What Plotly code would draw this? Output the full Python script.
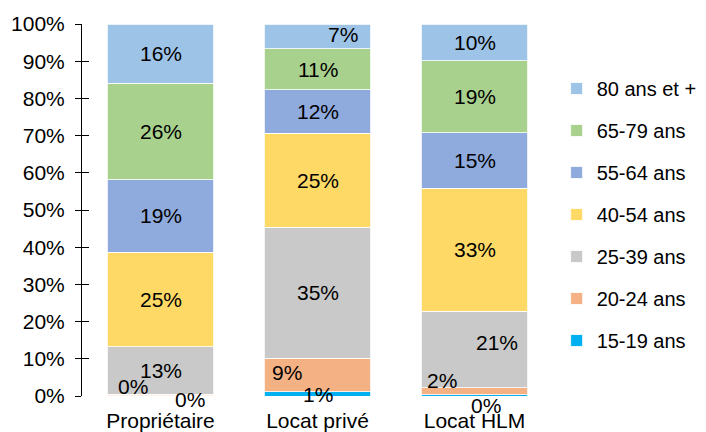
import plotly.graph_objects as go

categories = ["Propriétaire", "Locat privé", "Locat HLM"]
series_names = ["15-19 ans", "20-24 ans", "25-39 ans", "40-54 ans", "55-64 ans", "65-79 ans", "80 ans et +"]
v_15_19 = [0.1, 1.1, 0.3]
v_20_24 = [0.4, 9.1, 1.9]
v_25_39 = [12.8, 35.1, 20.6]
v_40_54 = [25.4, 25.4, 33.0]
v_55_64 = [19.4, 11.6, 15.0]
v_65_79 = [26.0, 11.0, 19.3]
v_80p = [15.9, 6.7, 9.9]
series_values = [v_15_19, v_20_24, v_25_39, v_40_54, v_55_64, v_65_79, v_80p]
y_ticks = [0, 10, 20, 30, 40, 50, 60, 70, 80, 90, 100]
y_tick_labels = [f"{t}%" for t in y_ticks]

colors = ["#00B0F0", "#F4B183", "#C9C9C9", "#FFD966", "#8FAADC", "#A9D18E", "#9DC3E6"]

# manual label offsets (pixels) for labels moved away from the segment centre
label_shift = {
    (0, 0): (29, -4), (1, 0): (-28, 8),
    (0, 1): (0, -1), (1, 1): (-31, 2), (6, 1): (25, 2),
    (0, 2): (11, -10), (1, 2): (-33, 11), (2, 2): (22, 7),
}

FONT = "Liberation Sans, Arial, sans-serif"
FS = 21
fig = go.Figure()
n = len(series_names)
for i, (name, vals) in enumerate(zip(series_names, series_values)):
    fig.add_trace(go.Bar(
        x=categories, y=vals, name=name, legendgroup=name, legendrank=n - i,
        marker=dict(color=colors[i], line=dict(color="white", width=0.8)),
        hoverinfo="skip",
    ))

annotations = []
for j, cat in enumerate(categories):
    cum = 0.0
    for i, vals in enumerate(series_values):
        v = vals[j]
        mid = cum + v / 2
        cum += v
        dx, dy = label_shift.get((i, j), (0, 0))
        annotations.append(dict(
            x=cat, y=mid, text=f"{round(v)}%", showarrow=False,
            xshift=dx, yshift=dy, font=dict(size=FS, color="#000000", family=FONT),
        ))

# page body has an 8px margin: figure is sized to end at the window edge
fig.update_layout(
    width=698, height=424,
    margin=dict(l=74, r=153, t=16, b=36, autoexpand=False),
    barmode="stack", bargap=0.32,
    plot_bgcolor="white", paper_bgcolor="white",
    font=dict(family=FONT, size=FS, color="#000000"),
    annotations=annotations,
    legend=dict(
        traceorder="grouped", tracegroupgap=13, maxheight=1,
        xref="container", yref="container",
        x=0.786, xanchor="left", y=0.513, yanchor="middle",
        font=dict(size=20, family=FONT, color="#000000"),
        bgcolor="rgba(0,0,0,0)",
    ),
    showlegend=True,
    yaxis2=dict(overlaying="y", side="left", range=[0, 100], tickvals=y_ticks,
                showticklabels=False, ticks="inside", ticklen=7, tickcolor="#000000",
                tickwidth=1, showgrid=False, showline=False, zeroline=False),
)
fig.update_xaxes(showline=False, ticks="", showgrid=False, range=[-0.5, 2.5],
                 ticklabelstandoff=10,
                 tickfont=dict(size=FS, family=FONT, color="#000000"))
fig.update_layout(yaxis=dict(range=[0, 100], tickvals=y_ticks,
                 ticktext=y_tick_labels, showgrid=False,
                 showline=True, linecolor="#000000", linewidth=1,
                 ticks="outside", ticklen=6, tickcolor="#000000", zeroline=False,
                 ticklabelstandoff=6,
                 tickfont=dict(size=FS, family=FONT, color="#000000")))
# invisible helper trace so the second y axis (inside tick half) is drawn
fig.add_trace(go.Bar(x=[categories[0]], y=[0], yaxis="y2", showlegend=False,
                     hoverinfo="skip", marker=dict(color="rgba(0,0,0,0)")))

fig.write_html("out.html")
